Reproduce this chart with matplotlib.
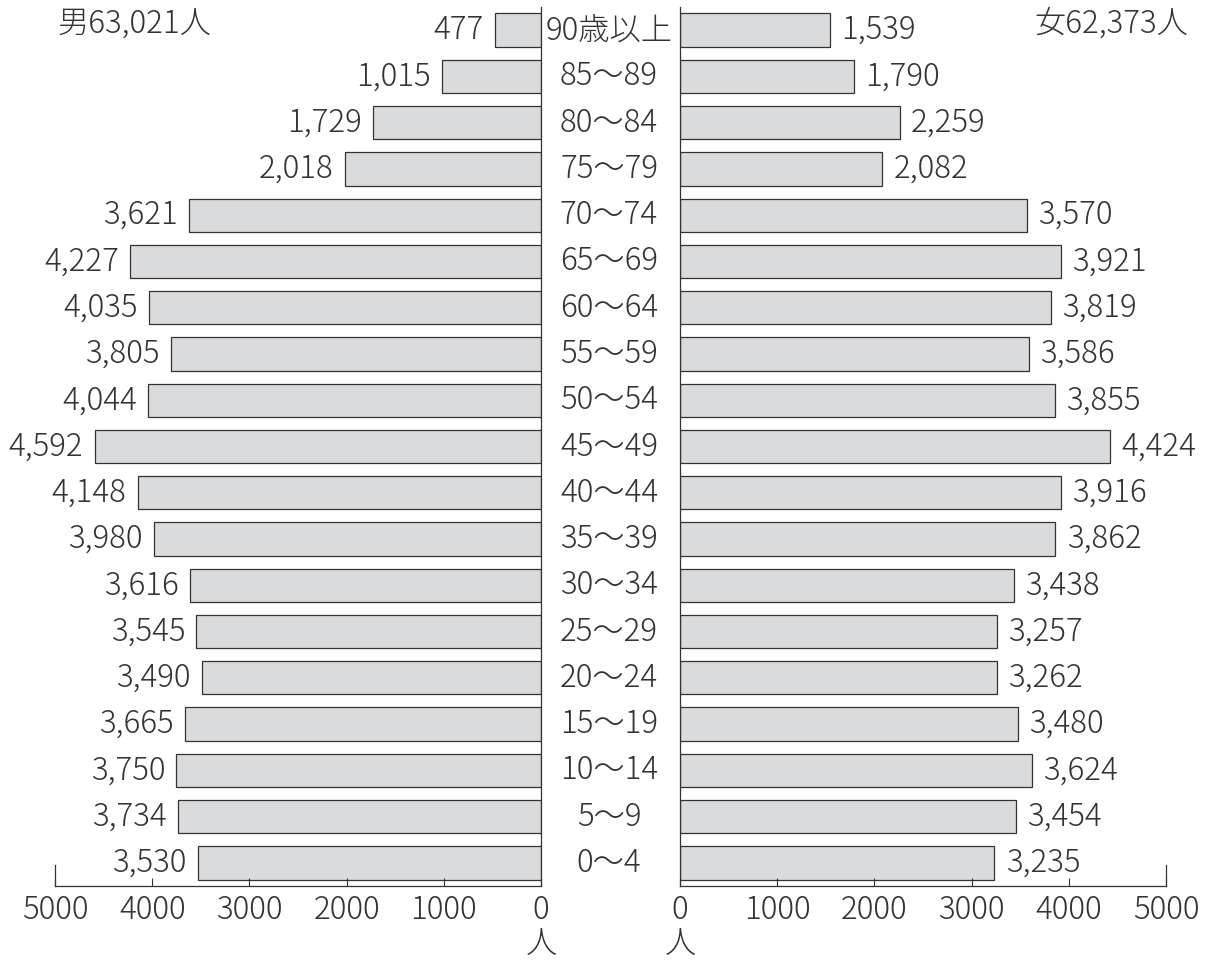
import matplotlib
matplotlib.use("Agg")
import matplotlib.pyplot as plt
import numpy as np

plt.rcParams['font.family'] = ['Noto Sans CJK JP', 'DejaVu Sans']
plt.rcParams['font.weight'] = 'light'

# Age groups, youngest first
ages = ["0〜4", "5〜9", "10〜14", "15〜19", "20〜24", "25〜29", "30〜34",
        "35〜39", "40〜44", "45〜49", "50〜54", "55〜59", "60〜64",
        "65〜69", "70〜74", "75〜79", "80〜84", "85〜89", "90歳以上"]
male = [3530, 3734, 3750, 3665, 3490, 3545, 3616, 3980, 4148, 4592,
        4044, 3805, 4035, 4227, 3621, 2018, 1729, 1015, 477]
female = [3235, 3454, 3624, 3480, 3262, 3257, 3438, 3862, 3916, 4424,
          3855, 3586, 3819, 3921, 3570, 2082, 2259, 1790, 1539]
male_total = "男63,021人"
female_total = "女62,373人"
ticks = [0, 1000, 2000, 3000, 4000, 5000]
unit = "人"

W, H = 1212, 961
fig = plt.figure(figsize=(W / 100, H / 100), dpi=100)
ink = "#333333"
fill = "#dadbdd"
fs = 22.5

bottom = (H - 886) / H
height = 879 / H
axL = fig.add_axes([55 / W, bottom, 486 / W, height])
axR = fig.add_axes([680 / W, bottom, 486 / W, height])

y = np.arange(len(ages))
for ax, vals, side in ((axL, male, "L"), (axR, female, "R")):
    ax.barh(y, vals, height=0.72, color=fill, edgecolor=ink, linewidth=0.9)
    ax.set_xlim(0, 5000)
    ax.set_ylim(-0.5, len(ages) - 0.5)
    ax.set_yticks([])
    ax.set_xticks(ticks)
    ax.set_xticklabels([str(t) for t in ticks], fontsize=fs, color=ink)
    ax.tick_params(axis="x", direction="in", length=6, width=0.8,
                   color=ink, pad=6)
    for s in ("top", "left", "right"):
        ax.spines[s].set_visible(False)
    ax.spines["bottom"].set_color(ink)
    ax.spines["bottom"].set_linewidth(0.9)
    edge = "right" if side == "L" else "left"
    ax.spines[edge].set_visible(True)
    ax.spines[edge].set_color(ink)
    ax.spines[edge].set_linewidth(0.9)
    # taller end tick at 5000
    ax.plot([5000, 5000], [-0.5, -0.5 + 21 / 46.28], color=ink,
            linewidth=0.9, clip_on=False)
    for yi, v in zip(y, vals):
        ax.text(v + 115, yi, f"{v:,}", ha="right" if side == "L" else "left",
                va="center", fontsize=fs, color=ink)
    ax.set_facecolor("none")

axL.invert_xaxis()

# Age labels in the gap between the two halves
for yi, a in zip(y, ages):
    axL.annotate(a, xy=(0, yi), xycoords="data",
                 xytext=(609 - 541, 0), textcoords="offset pixels",
                 ha="center", va="center", fontsize=fs, color=ink,
                 annotation_clip=False)

fig.text(57 / W, 1 - 24 / H, male_total, ha="left", va="center",
         fontsize=fs, color=ink)
fig.text(1188 / W, 1 - 24 / H, female_total, ha="right", va="center",
         fontsize=fs, color=ink)
fig.text(541 / W, 1 - 944 / H, unit, ha="center", va="center",
         fontsize=fs, color=ink)
fig.text(680 / W, 1 - 944 / H, unit, ha="center", va="center",
         fontsize=fs, color=ink)

fig.savefig("out.png", dpi=100, facecolor="white")
